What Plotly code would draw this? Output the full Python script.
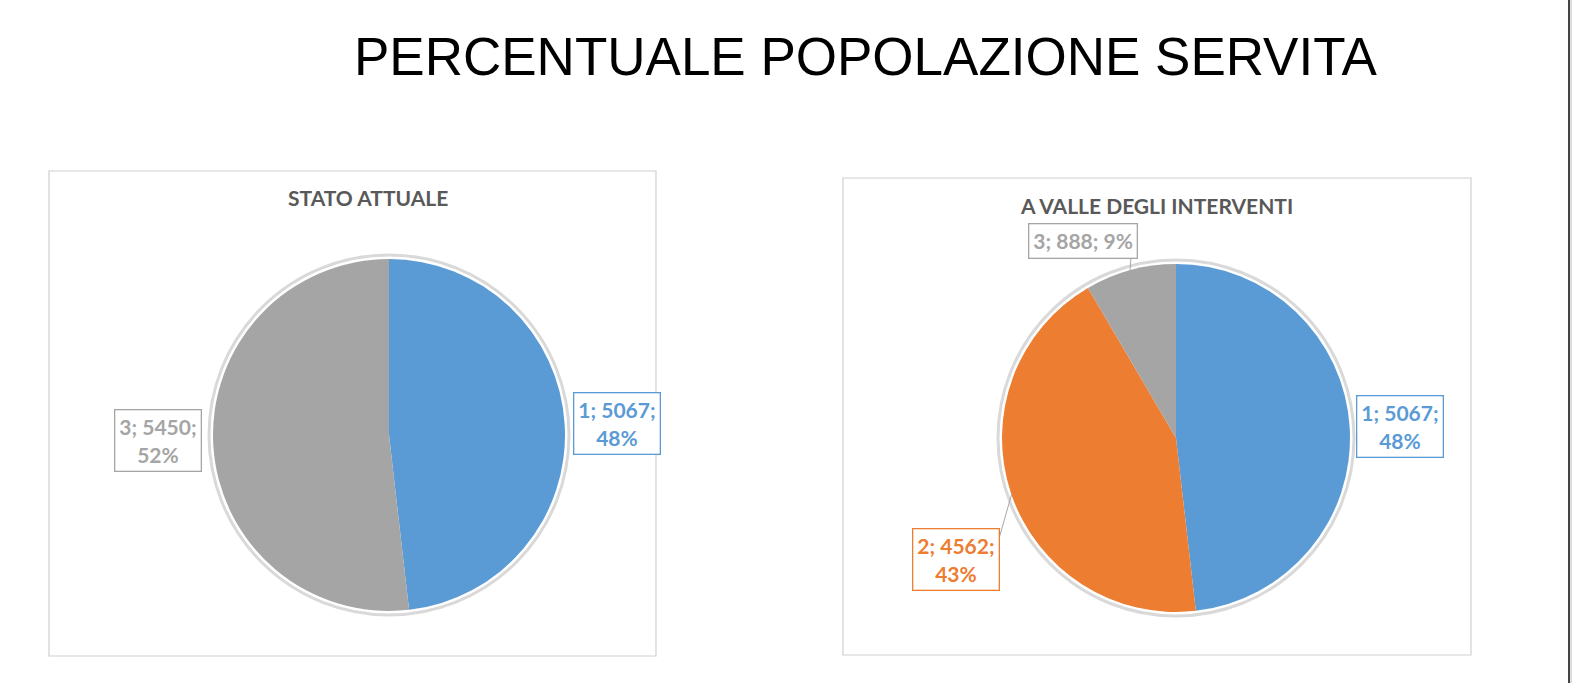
import plotly.graph_objects as go

# ---------------- data ----------------
main_title = "PERCENTUALE POPOLAZIONE SERVITA"

left_title = "STATO ATTUALE"
left_labels = ["1", "3"]
left_values = [5067, 5450]
left_pct = ["48%", "52%"]

right_title = "A VALLE DEGLI INTERVENTI"
right_labels = ["1", "2", "3"]
right_values = [5067, 4562, 888]
right_pct = ["48%", "43%", "9%"]

# ---------------- style ----------------
W, H = 1588, 683
COLORS = {"1": "#5B9BD5", "2": "#ED7D31", "3": "#A5A5A5"}
LABEL_FONT = "Lato"


def px(x):
    return x / W


def py(y):
    return 1 - y / H


def pie_domain(cx, cy, r):
    return dict(x=[px(cx - r), px(cx + r)], y=[py(cy + r), py(cy - r)])


fig = go.Figure()

pies = [
    dict(labels=left_labels, values=left_values, center=(389, 435), r=176),
    dict(labels=right_labels, values=right_values, center=(1176, 438), r=174),
]

shapes = []
for p in pies:
    cx, cy = p["center"]
    r = p["r"]
    # light outer rim like the Excel glow
    shapes.append(dict(type="circle", xref="paper", yref="paper",
                       x0=px(cx - r - 4), x1=px(cx + r + 4),
                       y0=py(cy + r + 4), y1=py(cy - r - 4),
                       line=dict(color="#d9d9d9", width=3),
                       fillcolor="white", layer="below"))
    fig.add_trace(go.Pie(
        labels=p["labels"], values=p["values"], sort=False,
        direction="clockwise", rotation=0,
        marker=dict(colors=[COLORS[l] for l in p["labels"]],
                    line=dict(width=0)),
        textinfo="none", hoverinfo="label+value+percent",
        domain=pie_domain(cx, cy, r), showlegend=False,
    ))

# chart frames
shapes.append(dict(type="rect", xref="paper", yref="paper",
                   x0=px(49), x1=px(656), y0=py(656), y1=py(171),
                   line=dict(color="#d0d0d0", width=1.2), layer="below"))
shapes.append(dict(type="rect", xref="paper", yref="paper",
                   x0=px(843), x1=px(1471), y0=py(655), y1=py(178),
                   line=dict(color="#d0d0d0", width=1.2), layer="below"))
# page edge line
shapes.append(dict(type="line", xref="paper", yref="paper",
                   x0=px(1569), x1=px(1569), y0=0, y1=1,
                   line=dict(color="#444444", width=2)))
shapes.append(dict(type="line", xref="paper", yref="paper",
                   x0=px(1571), x1=px(1571), y0=0, y1=1,
                   line=dict(color="#bbbbbb", width=1)))
# leader lines
shapes.append(dict(type="line", xref="paper", yref="paper",
                   x0=px(1131), x1=px(1130), y0=py(257), y1=py(271),
                   line=dict(color="#a6a6a6", width=1)))
shapes.append(dict(type="line", xref="paper", yref="paper",
                   x0=px(1012), x1=px(998), y0=py(493), y1=py(542),
                   line=dict(color="#a6a6a6", width=1)))

annotations = [
    dict(text=main_title, x=px(866), y=py(56), xref="paper", yref="paper",
         showarrow=False, xanchor="center", yanchor="middle",
         font=dict(family="Liberation Sans, Arial", size=53, color="black")),
    dict(text=left_title, x=px(368), y=py(198), xref="paper", yref="paper",
         showarrow=False, xanchor="center", yanchor="middle",
         font=dict(family=LABEL_FONT, size=21, color="#595959", weight="bold")),
    dict(text=right_title, x=px(1156), y=py(205), xref="paper", yref="paper",
         showarrow=False, xanchor="center", yanchor="middle",
         font=dict(family=LABEL_FONT, size=21, color="#595959", weight="bold")),
]

# data label placement (centres of the boxes) and line-break style
label_pos = {
    ("L", "1"): ((617, 423), True),
    ("L", "3"): ((158, 440), True),
    ("R", "1"): ((1400, 426), True),
    ("R", "2"): ((956, 559), True),
    ("R", "3"): ((1083, 241), False),
}

for side, labels, values, pcts in [("L", left_labels, left_values, left_pct),
                                    ("R", right_labels, right_values, right_pct)]:
    for lab, val, pct in zip(labels, values, pcts):
        (cx, cy), wrap = label_pos[(side, lab)]
        sep = "<br>" if wrap else " "
        txt = f"{lab}; {val};{sep}{pct}"
        annotations.append(dict(
            text=txt, x=px(cx), y=py(cy), xref="paper", yref="paper",
            showarrow=False, xanchor="center", yanchor="middle",
            align="center", bgcolor="white", bordercolor=COLORS[lab],
            borderwidth=1.3, borderpad=4,
            font=dict(family=LABEL_FONT, size=21, color=COLORS[lab],
                      weight="bold")))

fig.update_layout(
    width=W, height=H, margin=dict(l=0, r=0, t=0, b=0),
    paper_bgcolor="white", plot_bgcolor="white",
    shapes=shapes, annotations=annotations,
)

fig.write_html(
    "out.html",
    config={"displayModeBar": False},
    post_script="document.body.style.margin='0';"
                "document.body.style.overflow='hidden';",
)
